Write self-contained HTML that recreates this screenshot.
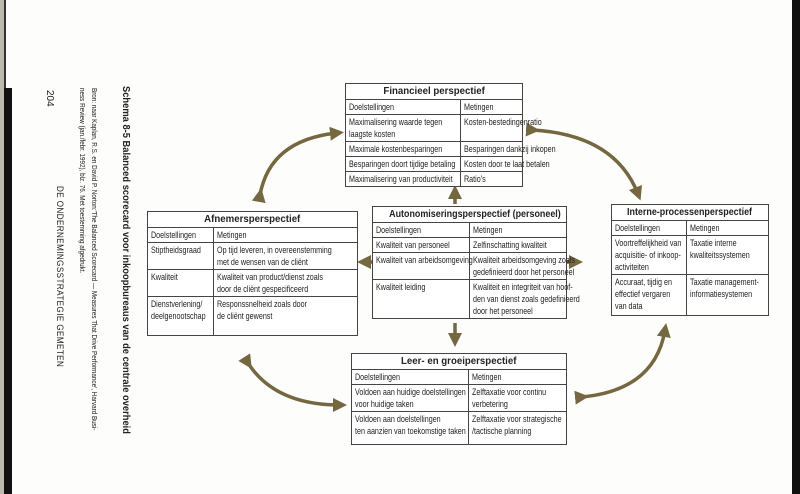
<!DOCTYPE html>
<html><head><meta charset="utf-8"><style>
body{margin:0;width:800px;height:494px;background:#fdfdfb;position:relative;overflow:hidden;font-family:"Liberation Sans",sans-serif;color:#222}
table{position:absolute;border-collapse:collapse;font-size:9.2px;background:#fff;border:1.3px solid #333;table-layout:fixed}
td{border:1px solid #444;padding:1px 3px;vertical-align:top;line-height:12px;white-space:nowrap;overflow:visible}
td span{display:inline-block;transform:scaleX(0.78);transform-origin:0 0}
th{border:1px solid #444;font-size:10.5px;font-weight:bold;padding:1px;line-height:13px;white-space:nowrap}
th span{display:inline-block;transform:scaleX(0.92)}
.rot{position:absolute;transform-origin:0 0;white-space:nowrap}
</style></head><body>
<div style="position:absolute;left:0;top:0;width:4px;height:494px;background:#bdb9ae"></div>
<div style="position:absolute;left:4px;top:88px;width:8px;height:406px;background:#111"></div>
<div style="position:absolute;left:4px;top:0;width:2px;height:88px;background:#333"></div>
<div style="position:absolute;left:792px;top:0;width:8px;height:494px;background:#111"></div>

<div class="rot" style="left:132px;top:86px;font-size:10.5px;font-weight:bold;transform:rotate(90deg) scaleX(0.89)">Schema 8-5 Balanced scorecard voor inkoopbureaus van de centrale overheid</div>
<div class="rot" style="left:99px;top:88px;font-size:7.6px;transform:rotate(90deg) scaleX(0.83)">Bron: naar Kaplan, R.S. en David P. Norton:'The Balanced Scorecard — Measures That Drive Performance', Harvard Busi-</div>
<div class="rot" style="left:87px;top:88px;font-size:7.6px;transform:rotate(90deg) scaleX(0.83)">ness Review (jan./febr. 1992), blz. 76. Met toestemming afgedrukt.</div>
<div class="rot" style="left:55px;top:90px;font-size:10px;transform:rotate(90deg)">204</div>
<div class="rot" style="left:65px;top:186px;font-size:9.5px;letter-spacing:0.5px;transform:rotate(90deg) scaleX(0.85)">DE ONDERNEMINGSSTRATEGIE GEMETEN</div>

<svg width="800" height="494" style="position:absolute;left:0;top:0">
<defs><marker id="a" markerWidth="4" markerHeight="4" refX="2" refY="2" orient="auto" markerUnits="strokeWidth"><path d="M0,0L4,2L0,4z" fill="#75673f"/></marker></defs>
<g stroke="#75673f" stroke-width="3.5" fill="none" marker-start="url(#a)" marker-end="url(#a)">
<path d="M260,195 Q270,140 337,133"/>
<path d="M533,130 Q615,135 638,194"/>
<path d="M248,363 Q275,405 340,405"/>
<path d="M582,397 Q655,390 665,330"/>
</g>
<g stroke="#75673f" stroke-width="3.5" marker-end="url(#a)">
<line x1="455" y1="204" x2="455" y2="192"/>
<line x1="372" y1="262" x2="364" y2="262"/>
<line x1="567" y1="262" x2="576" y2="262"/>
<line x1="455" y1="323" x2="455" y2="340"/>
</g>
</svg>

<table style="left:345px;top:83px;width:178px">
<col style="width:115px"><col>
<tr><th colspan="2"><span>Financieel perspectief</span></th></tr>
<tr><td><span>Doelstellingen</span></td><td><span>Metingen</span></td></tr>
<tr><td><span>Maximalisering waarde tegen<br>laagste kosten</span></td><td><span>Kosten-bestedingenratio</span></td></tr>
<tr><td><span>Maximale kostenbesparingen</span></td><td><span>Besparingen dankzij inkopen</span></td></tr>
<tr><td><span>Besparingen doort tijdige betaling</span></td><td><span>Kosten door te laat betalen</span></td></tr>
<tr><td><span>Maximalisering van productiviteit</span></td><td><span>Ratio's</span></td></tr>
</table>

<table style="left:147px;top:211px;width:211px">
<col style="width:66px"><col>
<tr><th colspan="2"><span>Afnemersperspectief</span></th></tr>
<tr><td><span>Doelstellingen</span></td><td><span>Metingen</span></td></tr>
<tr><td><span>Stiptheidsgraad</span></td><td><span>Op tijd leveren, in overeenstemming<br>met de wensen van de cliënt</span></td></tr>
<tr><td><span>Kwaliteit</span></td><td><span>Kwaliteit van product/dienst zoals<br>door de cliënt gespecificeerd</span></td></tr>
<tr><td style="height:36px"><span>Dienstverlening/<br>deelgenootschap</span></td><td><span>Responssnelheid zoals door<br>de cliënt gewenst</span></td></tr>
</table>

<table style="left:372px;top:206px;width:195px">
<col style="width:97px"><col>
<tr><th colspan="2"><span style="transform:scaleX(0.85)">Autonomiseringsperspectief (personeel)</span></th></tr>
<tr><td><span>Doelstellingen</span></td><td><span>Metingen</span></td></tr>
<tr><td><span>Kwaliteit van personeel</span></td><td><span>Zelfinschatting kwaliteit</span></td></tr>
<tr><td><span>Kwaliteit van arbeidsomgeving</span></td><td><span>Kwaliteit arbeidsomgeving zoals<br>gedefinieerd door het personeel</span></td></tr>
<tr><td><span>Kwaliteit leiding</span></td><td><span>Kwaliteit en integriteit van hoof-<br>den van dienst zoals gedefinieerd<br>door het personeel</span></td></tr>
</table>

<table style="left:611px;top:204px;width:158px">
<col style="width:75px"><col>
<tr><th colspan="2"><span style="transform:scaleX(0.85)">Interne-processenperspectief</span></th></tr>
<tr><td><span>Doelstellingen</span></td><td><span>Metingen</span></td></tr>
<tr><td><span>Voortreffelijkheid van<br>acquisitie- of inkoop-<br>activiteiten</span></td><td><span>Taxatie interne<br>kwaliteitssystemen</span></td></tr>
<tr><td style="height:38px"><span>Accuraat, tijdig en<br>effectief vergaren<br>van data</span></td><td><span>Taxatie management-<br>informatiesystemen</span></td></tr>
</table>

<table style="left:351px;top:353px;width:216px">
<col style="width:117px"><col>
<tr><th colspan="2"><span>Leer- en groeiperspectief</span></th></tr>
<tr><td><span>Doelstellingen</span></td><td><span>Metingen</span></td></tr>
<tr><td><span>Voldoen aan huidige doelstellingen<br>voor huidige taken</span></td><td><span>Zelftaxatie voor continu<br>verbetering</span></td></tr>
<tr><td style="height:30px"><span>Voldoen aan doelstellingen<br>ten aanzien van toekomstige taken</span></td><td><span>Zelftaxatie voor strategische<br>/tactische planning</span></td></tr>
</table>
</body></html>
